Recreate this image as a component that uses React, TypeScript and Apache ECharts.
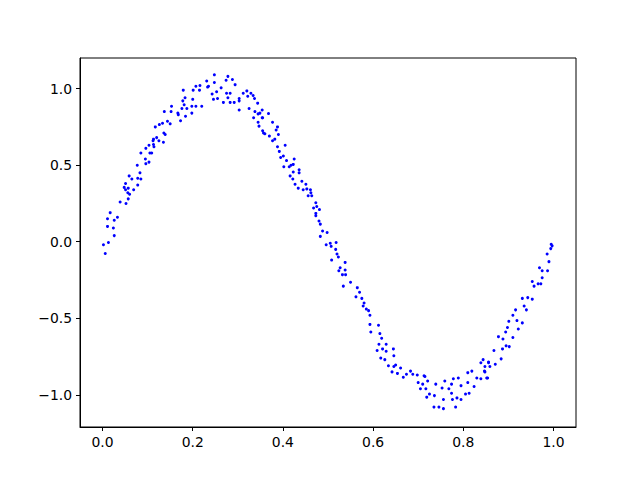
import React, { useEffect, useRef } from "react";
import * as echarts from "echarts";

// Points (x, y)
const xValues: number[] = [
  0.006, 0.002, 0.013, 0.026, 0.024, 0.011, 0.026, 0.011, 0.033, 0.017, 0.039, 0.052, 0.057, 0.06, 0.069,
  0.056, 0.078, 0.048, 0.051, 0.057, 0.051, 0.065, 0.059, 0.078, 0.085, 0.083, 0.077, 0.096, 0.095, 0.103,
  0.085, 0.096, 0.105, 0.103, 0.113, 0.112, 0.109, 0.113, 0.114, 0.125, 0.135, 0.12, 0.117, 0.126, 0.133,
  0.144, 0.136, 0.139, 0.15, 0.137, 0.152, 0.153, 0.167, 0.168, 0.173, 0.176, 0.178, 0.181, 0.184, 0.187,
  0.183, 0.179, 0.198, 0.198, 0.2, 0.207, 0.207, 0.216, 0.201, 0.215, 0.22, 0.235, 0.231, 0.233, 0.248,
  0.248, 0.243, 0.246, 0.255, 0.253, 0.263, 0.274, 0.278, 0.288, 0.294, 0.275, 0.283, 0.268, 0.278, 0.283,
  0.292, 0.303, 0.303, 0.312, 0.32, 0.322, 0.329, 0.334, 0.337, 0.303, 0.325, 0.338, 0.344, 0.345, 0.354,
  0.335, 0.354, 0.345, 0.347, 0.355, 0.349, 0.368, 0.355, 0.377, 0.388, 0.385, 0.357, 0.36, 0.37, 0.39,
  0.377, 0.382, 0.388, 0.392, 0.405, 0.395, 0.401, 0.408, 0.425, 0.402, 0.418, 0.423, 0.414, 0.423, 0.436,
  0.436, 0.416, 0.422, 0.427, 0.442, 0.434, 0.451, 0.461, 0.462, 0.453, 0.456, 0.464, 0.445, 0.468, 0.473,
  0.475, 0.481, 0.473, 0.473, 0.48, 0.483, 0.488, 0.498, 0.483, 0.496, 0.505, 0.507, 0.518, 0.517, 0.52,
  0.523, 0.508, 0.538, 0.527, 0.524, 0.538, 0.532, 0.539, 0.55, 0.534, 0.565, 0.57, 0.575, 0.58, 0.585,
  0.59, 0.562, 0.578, 0.593, 0.593, 0.612, 0.595, 0.615, 0.619, 0.613, 0.629, 0.621, 0.609, 0.645, 0.629,
  0.617, 0.626, 0.646, 0.634, 0.646, 0.65, 0.661, 0.642, 0.654, 0.667, 0.674, 0.683, 0.688, 0.698, 0.713,
  0.7, 0.705, 0.71, 0.715, 0.717, 0.721, 0.719, 0.725, 0.736, 0.735, 0.746, 0.756, 0.756, 0.739, 0.753,
  0.759, 0.768, 0.774, 0.774, 0.776, 0.778, 0.786, 0.783, 0.789, 0.795, 0.795, 0.805, 0.81, 0.813, 0.81,
  0.819, 0.824, 0.83, 0.839, 0.847, 0.854, 0.839, 0.844, 0.856, 0.848, 0.848, 0.852, 0.856, 0.859, 0.868,
  0.871, 0.878, 0.884, 0.887, 0.888, 0.898, 0.895, 0.894, 0.902, 0.901, 0.91, 0.91, 0.916, 0.919, 0.922,
  0.931, 0.931, 0.935, 0.94, 0.943, 0.953, 0.953, 0.957, 0.966, 0.972, 0.975, 0.969, 0.975, 0.987, 0.986,
  0.99, 0.994, 0.997, 0.995,
];

const yValues: number[] = [
  -0.077, -0.02, -0.005, 0.04, 0.09, 0.1, 0.14, 0.15, 0.16, 0.19, 0.26, 0.25, 0.28, 0.31, 0.34,
  0.32, 0.37, 0.355, 0.34, 0.35, 0.38, 0.41, 0.43, 0.415, 0.41, 0.45, 0.5, 0.51, 0.54, 0.52,
  0.58, 0.61, 0.58, 0.63, 0.635, 0.66, 0.58, 0.67, 0.62, 0.66, 0.65, 0.68, 0.75, 0.765, 0.774,
  0.787, 0.71, 0.7, 0.77, 0.85, 0.85, 0.885, 0.84, 0.83, 0.79, 0.87, 0.92, 0.895, 0.82, 0.87,
  0.94, 0.99, 0.84, 0.885, 0.93, 0.885, 1.015, 1.02, 0.99, 0.99, 0.885, 1.015, 1.05, 1.01, 1.09,
  1.04, 0.965, 0.93, 0.935, 0.98, 1.005, 1.055, 1.08, 1.06, 1.026, 0.97, 0.97, 0.91, 0.94, 0.91,
  0.91, 0.935, 0.92, 0.97, 0.985, 0.95, 0.97, 0.955, 0.935, 0.86, 0.87, 0.85, 0.905, 0.835, 0.86,
  0.81, 0.81, 0.78, 0.755, 0.725, 0.84, 0.837, 0.81, 0.78, 0.75, 0.73, 0.71, 0.705, 0.69, 0.7,
  0.66, 0.67, 0.62, 0.59, 0.63, 0.55, 0.56, 0.53, 0.54, 0.49, 0.5, 0.505, 0.49, 0.455, 0.47,
  0.45, 0.43, 0.41, 0.375, 0.395, 0.35, 0.375, 0.34, 0.32, 0.345, 0.3, 0.3, 0.34, 0.22, 0.255,
  0.23, 0.21, 0.185, 0.17, 0.135, 0.115, 0.07, 0.06, 0.035, -0.02, -0.01, -0.03, -0.005, -0.05, -0.08,
  -0.1, -0.12, -0.135, -0.17, -0.19, -0.185, -0.215, -0.215, -0.265, -0.29, -0.3, -0.33, -0.37, -0.4, -0.44,
  -0.45, -0.36, -0.42, -0.48, -0.54, -0.545, -0.59, -0.6, -0.63, -0.67, -0.67, -0.7, -0.71, -0.7, -0.715,
  -0.76, -0.77, -0.745, -0.81, -0.815, -0.805, -0.825, -0.85, -0.86, -0.885, -0.865, -0.845, -0.865, -0.87, -0.875,
  -0.92, -0.96, -0.93, -0.88, -0.96, -0.91, -1.015, -0.995, -1.005, -1.08, -1.08, -1.09, -1.03, -0.93, -0.955,
  -0.91, -0.96, -0.93, -0.99, -1.03, -0.895, -1.02, -1.08, -0.89, -1.03, -0.94, -0.995, -0.92, -0.99, -0.855,
  -0.845, -0.945, -0.89, -0.895, -0.845, -0.89, -0.79, -0.77, -0.785, -0.815, -0.85, -0.89, -0.79, -0.815, -0.71,
  -0.8, -0.62, -0.765, -0.7, -0.635, -0.56, -0.68, -0.59, -0.685, -0.52, -0.625, -0.48, -0.445, -0.515, -0.57,
  -0.53, -0.37, -0.42, -0.445, -0.365, -0.375, -0.26, -0.29, -0.275, -0.275, -0.235, -0.17, -0.19, -0.19, -0.08,
  -0.13, -0.045, -0.027, -0.016,
];

const xTicks: number[] = [0, 0.2, 0.4, 0.6, 0.8, 1.0];
const yTicks: number[] = [-1.0, -0.5, 0.0, 0.5, 1.0];

const fmt = (v: number) => (v < 0 ? "\u2212" + Math.abs(v).toFixed(1) : v.toFixed(1));

export default function App() {
  const ref = useRef<HTMLDivElement>(null);
  useEffect(() => {
    if (!ref.current) return;
    const chart = echarts.init(ref.current, null, { renderer: "svg" });
    const points = xValues.map((x, i) => [x, yValues[i]]);
    const font = { fontFamily: "DejaVu Sans", fontSize: 13.9, color: "#000" };
    chart.setOption({
      animation: false,
      backgroundColor: "#fff",
      grid: {
        left: 80,
        right: 64,
        top: 58,
        bottom: 53,
        show: true,
        borderColor: "#000",
        borderWidth: 1,
        backgroundColor: "transparent",
      },
      xAxis: {
        type: "value",
        min: -0.05,
        max: 1.05,
        splitLine: { show: false },
        axisLine: { show: true, onZero: false, lineStyle: { color: "#000", width: 1 } },
        axisTick: { show: true, length: 4, customValues: xTicks, lineStyle: { color: "#000" } },
        axisLabel: { ...font, margin: 8, customValues: xTicks, formatter: fmt },
      },
      yAxis: {
        type: "value",
        min: -1.21,
        max: 1.2,
        splitLine: { show: false },
        axisLine: { show: true, onZero: false, lineStyle: { color: "#000", width: 1 } },
        axisTick: { show: true, length: 4, customValues: yTicks, lineStyle: { color: "#000" } },
        axisLabel: { ...font, margin: 8, customValues: yTicks, formatter: fmt },
      },
      series: [
        {
          type: "scatter",
          data: points,
          symbol: "circle",
          symbolSize: 3,
          itemStyle: { color: "#0000ff", opacity: 1 },
        },
      ],
    });
    return () => chart.dispose();
  }, []);
  return (
    <div
      ref={ref}
      style={{ position: "absolute", left: 0, top: 0, width: 640, height: 480 }}
    />
  );
}
